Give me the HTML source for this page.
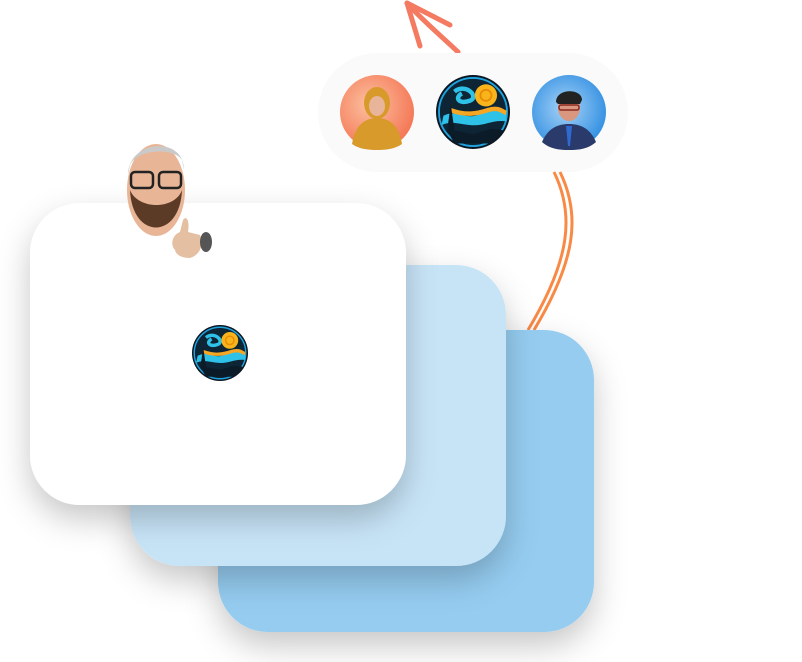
<!DOCTYPE html>
<html><head><style>
html,body{margin:0;padding:0;background:#fff;width:802px;height:662px;overflow:hidden}
</style></head><body>
<svg width="802" height="662" viewBox="0 0 802 662" xmlns="http://www.w3.org/2000/svg">
<defs>
<filter id="sh" x="-30%" y="-30%" width="160%" height="160%"><feDropShadow dx="0" dy="14" stdDeviation="16" flood-color="#000" flood-opacity="0.22"/></filter>
<radialGradient id="og" cx="0.4" cy="0.4" r="0.7"><stop offset="0" stop-color="#fbc1a0"/><stop offset="1" stop-color="#f46f4e"/></radialGradient>
<radialGradient id="bg" cx="0.45" cy="0.45" r="0.7"><stop offset="0" stop-color="#a7d3f7"/><stop offset="1" stop-color="#1b82de"/></radialGradient>
<g id="logo">
<circle r="1" fill="#0b1620"/>
<circle r="0.92" fill="#0e2535" stroke="#1fa4e0" stroke-width="0.05"/>
<path d="M-0.8,0.1 C-0.4,-0.1 -0.2,0.25 0.2,0.05 S0.6,-0.05 0.9,0.05 L0.9,0.25 C0.5,0.2 0.3,0.4 -0.1,0.35 S-0.6,0.25 -0.85,0.35Z" fill="#2ec2e8"/>
<path d="M-0.6,-0.05 C-0.2,0.1 0.1,0.05 0.4,-0.05 S0.8,0 0.9,0.02" stroke="#f5a623" stroke-width="0.12" fill="none"/>
<path d="M-0.5,-0.55 C-0.2,-0.8 0.2,-0.4 -0.1,-0.3 C-0.4,-0.2 -0.5,-0.4 -0.3,-0.5" stroke="#2ec2e8" stroke-width="0.12" fill="none"/>
<circle cx="0.35" cy="-0.45" r="0.3" fill="#f8b41a"/>
<circle cx="0.35" cy="-0.45" r="0.15" fill="none" stroke="#e88b0a" stroke-width="0.05"/>
<path d="M-0.7,0.5 L-0.6,-0.2 L-0.5,0.5 L0,0.6 L0.5,0.45 L0.85,0.5 L0.5,0.85 L-0.5,0.85Z" fill="#0b1b28"/>
</g>
</defs>

<!-- top arrow -->
<g stroke="#f47a62" stroke-width="5" stroke-linecap="round" fill="none">
<path d="M458,52 C440,35 420,18 407,3"/>
<path d="M407,3 L420,46"/>
<path d="M407,3 L450,25"/>
</g>

<!-- pill -->
<rect x="318" y="53" width="310" height="119" rx="59.5" fill="#fafafa"/>
<circle cx="377" cy="112" r="37" fill="url(#og)"/>
<path d="M352,144 C355,125 365,118 377,118 C389,118 399,125 402,144 C395,149 386,150 377,150 C368,150 359,149 352,144Z" fill="#d89a2a"/>
<ellipse cx="377" cy="103" rx="13" ry="16" fill="#d89a2a"/>
<ellipse cx="377" cy="106" rx="8" ry="10" fill="#e9b59a"/>
<g transform="translate(473,112) scale(37)"><use href="#logo"/></g>
<circle cx="569" cy="112" r="37" fill="url(#bg)"/>
<path d="M542,142 C548,128 558,124 569,124 C580,124 590,128 596,142 C588,149 579,150 569,150 C559,150 550,149 542,142Z" fill="#2a3a6a"/>
<path d="M566,126 L572,126 L570,146 L568,146Z" fill="#2e6ad0"/>
<ellipse cx="569" cy="108" rx="11" ry="13" fill="#d99780"/>
<path d="M556,102 C556,88 582,88 582,100 L580,104 L558,104Z" fill="#222"/>
<rect x="559" y="105" width="20" height="5" rx="2" fill="none" stroke="#8a2a1f" stroke-width="1.5"/>

<!-- orange connector -->
<g stroke="#f98a46" stroke-width="3" fill="none">
<path d="M554,172 C575,215 570,260 528,330"/>
<path d="M560,172 C581,215 576,260 534,330"/>
</g>

<!-- cards -->
<rect x="218" y="330" width="376" height="302" rx="50" fill="#95ccf0" filter="url(#sh)"/>
<rect x="130" y="265" width="376" height="301" rx="50" fill="#c7e4f7" filter="url(#sh)"/>
<rect x="30" y="203" width="376" height="302" rx="50" fill="#ffffff" filter="url(#sh)"/>

<!-- man avatar -->
<ellipse cx="156" cy="190" rx="29" ry="46" fill="#e9b597"/>
<path d="M128,175 C128,140 184,135 184,170 L182,160 C175,148 138,148 130,165Z" fill="#c9c9c9"/>
<path d="M130,190 C132,240 180,240 182,190 C175,210 138,210 130,190Z" fill="#5b3a26"/>
<rect x="131" y="172" width="22" height="16" rx="4" fill="none" stroke="#222" stroke-width="2.5"/>
<rect x="159" y="172" width="22" height="16" rx="4" fill="none" stroke="#222" stroke-width="2.5"/>
<path d="M175,250 C170,245 172,235 180,232 L183,220 C186,215 190,220 188,232 L200,235 C204,245 200,255 190,258 C182,258 176,255 175,250Z" fill="#e5bfa2"/>
<ellipse cx="206" cy="242" rx="6" ry="10" fill="#555"/>

<!-- small logo -->
<g transform="translate(220,353) scale(28)"><use href="#logo"/></g>
</svg>
</body></html>
